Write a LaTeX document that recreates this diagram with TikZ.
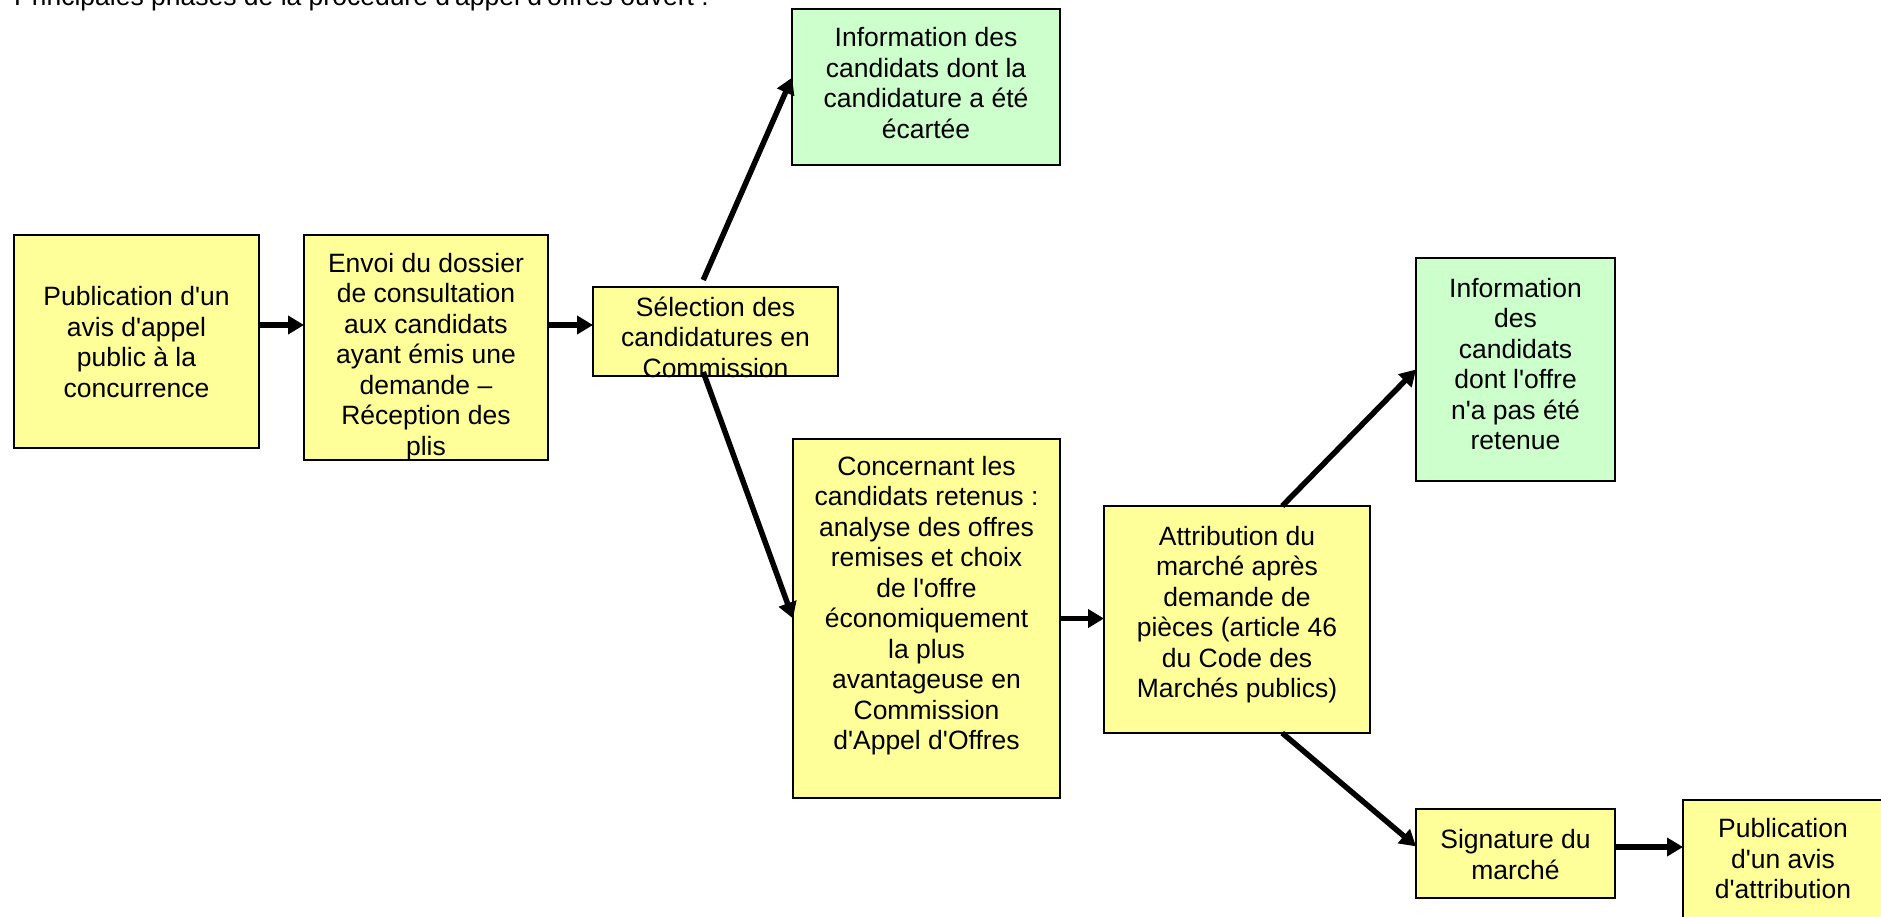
\documentclass[tikz,border=0pt]{standalone}
\usepackage{fontspec}
\setmainfont{Liberation Sans}[Ligatures=TeXOff]
\usetikzlibrary{arrows.meta,calc}
\definecolor{byellow}{RGB}{255,255,153}
\definecolor{bgreen}{RGB}{204,255,204}
\begin{document}
\begin{tikzpicture}[x=1pt,y=-1pt,
 box/.style={draw=black,line width=2pt,anchor=north west,inner sep=0pt,outer sep=0pt},
 ybox/.style={box,fill=byellow},
 gbox/.style={box,fill=bgreen},
 txt/.style={align=center,inner sep=0pt,font=\fontsize{26.5}{30.5}\selectfont},
 arr/.style={line width=5.5pt,-{Triangle[length=16pt,width=18pt]}}]
\clip (0,0) rectangle (1881,916);
\fill[white] (0,0) rectangle (1881,916);

\node[txt,anchor=base west] (title) at (14,5) {Principales phases de la procédure d'appel d'offres ouvert :};

% boxes
\node[ybox,minimum width=245pt,minimum height=213pt] (b1) at (14,235) {};
\node[ybox,minimum width=244pt,minimum height=225pt] (b2) at (304,235) {};
\node[ybox,minimum width=245pt,minimum height=89pt] (b3) at (593,287) {};
\node[gbox,minimum width=268pt,minimum height=156pt] (g1) at (792,9) {};
\node[ybox,minimum width=267pt,minimum height=359pt] (b4) at (793,439) {};
\node[ybox,minimum width=266pt,minimum height=227pt] (b5) at (1104,506) {};
\node[gbox,minimum width=199pt,minimum height=223pt] (g2) at (1416,258) {};
\node[ybox,minimum width=199pt,minimum height=89pt] (b6) at (1416,809) {};
\node[ybox,minimum width=200pt,minimum height=120pt] (b7) at (1683,800) {};

% texts
\node[txt] (t1) at (136.5,342) {Publication d'un\\avis d'appel\\public à la\\concurrence};
\node[txt] (t2) at (426,357) {Envoi du dossier\\de consultation\\aux candidats\\ayant émis une\\demande –\\Réception des\\plis};
\node[txt] (t3) at (715.5,337) {Sélection des\\candidatures en\\Commission};
\node[txt] (t4) at (926,83) {Information des\\candidats dont la\\candidature a été\\écartée};
\node[txt] (t5) at (926.5,605.5) {Concernant les\\candidats retenus :\\analyse des offres\\remises et choix\\de l'offre\\économiquement\\la plus\\avantageuse en\\Commission\\d'Appel d'Offres};
\node[txt] (t6) at (1237,614.5) {Attribution du\\marché après\\demande de\\pièces (article 46\\du Code des\\Marchés publics)};
\node[txt] (t7) at (1515.5,364) {Information\\des\\candidats\\dont l'offre\\n'a pas été\\retenue};
\node[txt] (t8) at (1515.5,854.5) {Signature du\\marché};
\node[txt] (t9) at (1783,859) {Publication\\d'un avis\\d'attribution};

% connectors
\coordinate (ya) at (0,325);
\coordinate (yb) at (0,847);
\draw[arr] (b1.east |- ya) -- (b2.west |- ya);
\draw[arr] (b2.east |- ya) -- (b3.west |- ya);
\draw[arr] ([yshift=7pt]$(b3.north west)!0.45!(b3.north east)$) -- ($(g1.north west)!0.44!(g1.south west)$);
\draw[arr] ([yshift=4pt]$(b3.south west)!0.45!(b3.south east)$) -- (b4.west);
\draw[arr] (b4.east) -- (b5.west |- b4.east);
\draw[arr] ($(b5.north west)!0.67!(b5.north east)$) -- (g2.west);
\draw[arr] ($(b5.south west)!0.67!(b5.south east)$) -- ($(b6.north west)!0.42!(b6.south west)$);
\draw[arr] (b6.east |- yb) -- (b7.west |- yb);
\end{tikzpicture}
\end{document}
